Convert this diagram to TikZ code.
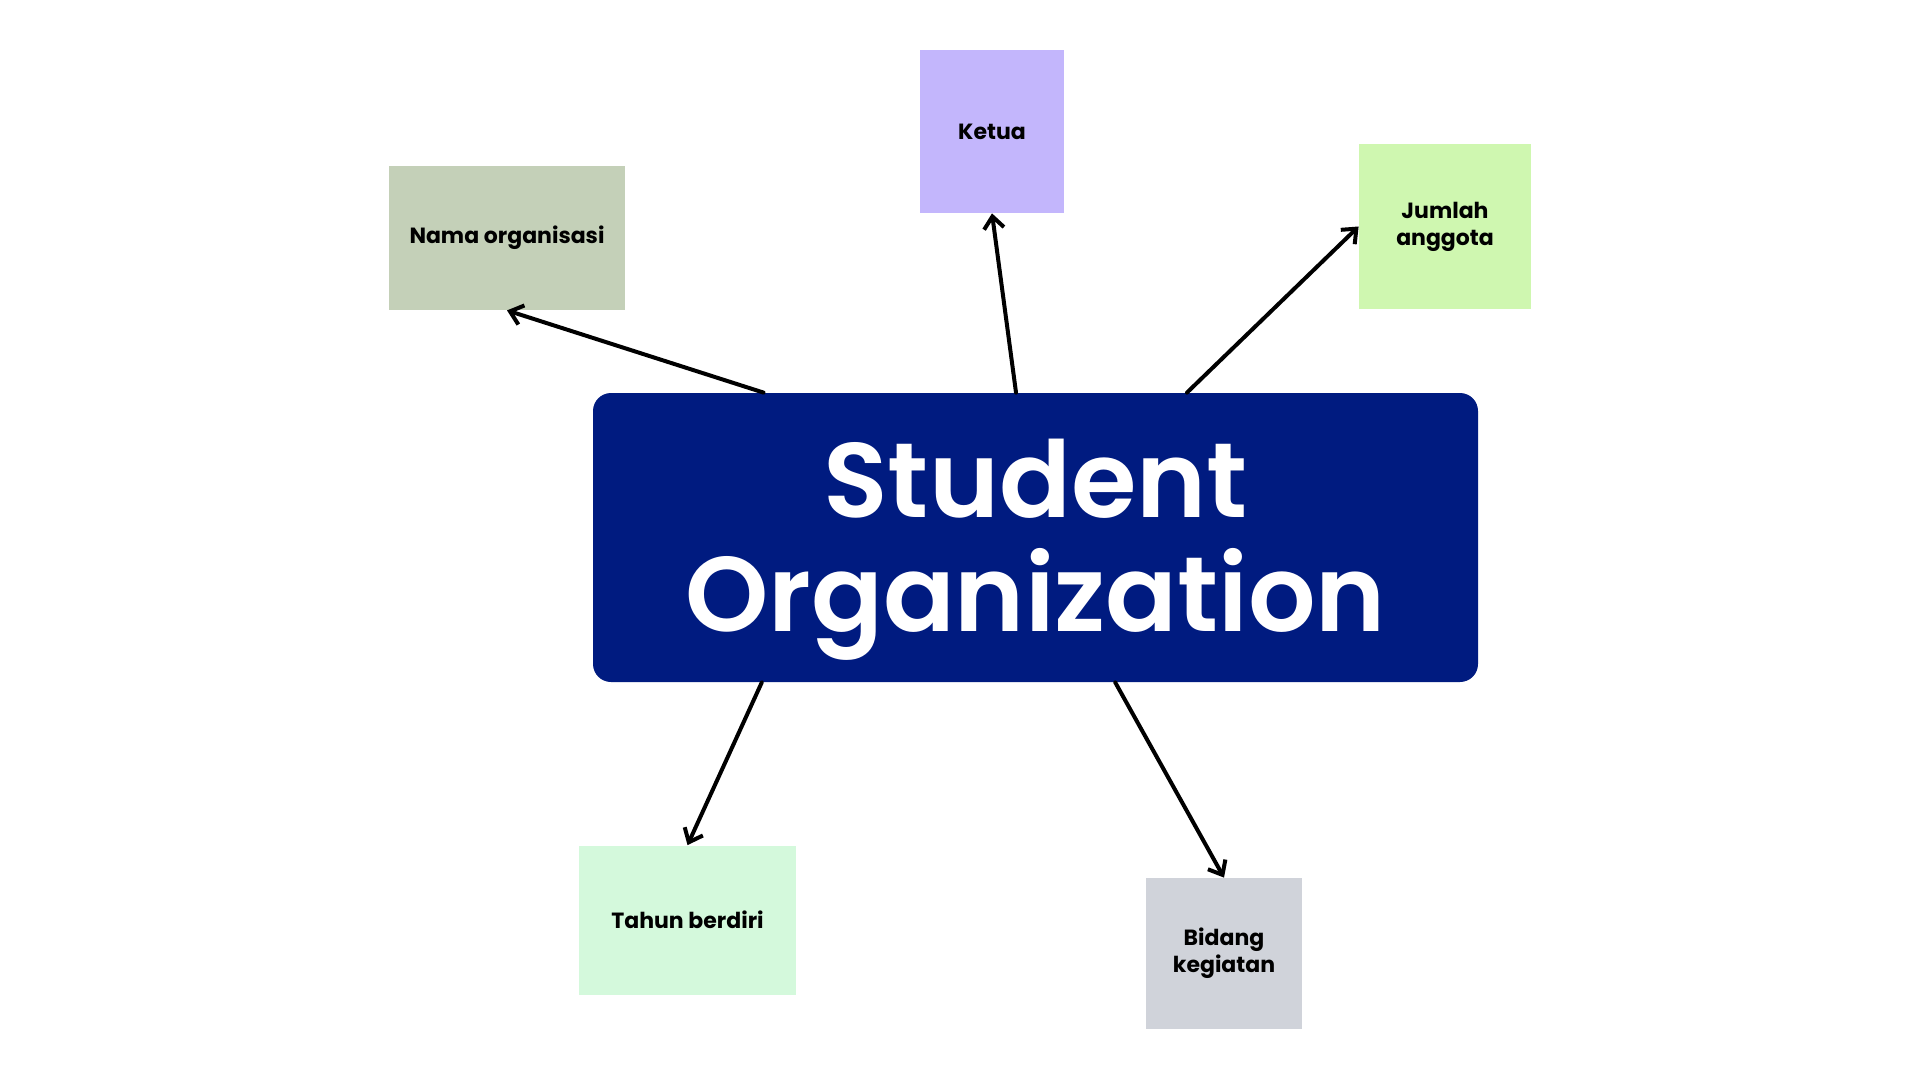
\documentclass[tikz,border=0pt]{standalone}
\usepackage{fontspec}
\setmainfont{Poppins}
\newfontfamily\titlefont{Poppins SemiBold}
\usetikzlibrary{arrows.meta,calc}
\definecolor{navy}{RGB}{0,27,128}
\definecolor{sage}{RGB}{196,208,184}
\definecolor{lilac}{RGB}{195,182,252}
\definecolor{lime}{RGB}{207,247,176}
\definecolor{mint}{RGB}{212,249,220}
\definecolor{slate}{RGB}{208,211,218}
\begin{document}
\begin{tikzpicture}[x=0.5pt,y=-0.5pt,
    topic/.style={rectangle,inner sep=0pt,align=center,font=\bfseries\fontsize{11}{13.5}\selectfont},
    link/.style={line width=2pt,line cap=round,-{Straight Barb[length=6pt,width=10pt,line width=2pt]}}]
    \useasboundingbox[fill=white] (0,0) rectangle (1920,1080);

    \node[rectangle,rounded corners=9pt,fill=navy,minimum width=442.5pt,minimum height=144.5pt] (org) at (1035.5,537.5) {};
    \node[text=white,align=center,font=\titlefont\fontsize{53}{57}\selectfont] (orgtext)
          at ([yshift=-6pt]org.center) {Student\\Organization};

    \node[topic,fill=sage,minimum width=118pt,minimum height=72pt] (nama) at (507,238) {Nama organisasi};
    \node[topic,fill=lilac,minimum width=72pt,minimum height=81.5pt] (ketua) at (992,131.5) {Ketua};
    \node[topic,fill=lime,minimum width=86pt,minimum height=82.5pt] (jumlah) at (1445,226.5) {Jumlah\\anggota};
    \node[topic,fill=mint,minimum width=108.5pt,minimum height=74.5pt] (tahun) at (687.5,920) {Tahun berdiri};
    \node[topic,fill=slate,minimum width=78pt,minimum height=75.5pt] (bidang) at (1224,953.5) {Bidang\\kegiatan};

    \draw[link] ($(org.north west)!0.193!(org.north east)$) -- (nama.south);
    \draw[link] ($(org.north west)!0.478!(org.north east)$) -- (ketua.south);
    \draw[link] ($(org.north west)!0.671!(org.north east)$) -- (jumlah.west);
    \draw[link] ($(org.south west)!0.191!(org.south east)$) -- (tahun.north);
    \draw[link] ($(org.south west)!0.590!(org.south east)$) -- (bidang.north);
\end{tikzpicture}
\end{document}
